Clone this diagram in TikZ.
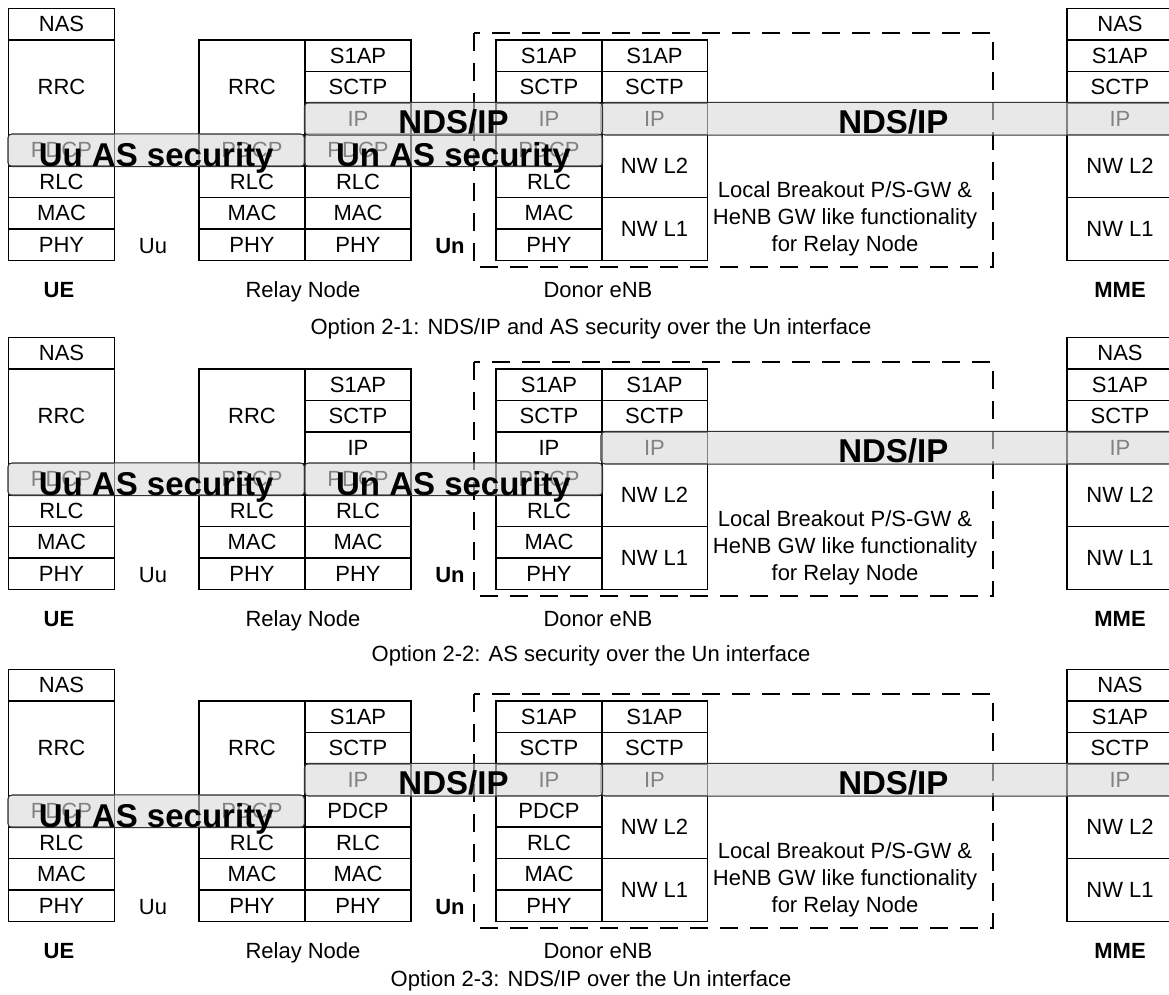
\documentclass[tikz,border=0pt]{standalone}
\usepackage{fontspec}
\setmainfont{Liberation Sans}
\usetikzlibrary{calc}

\begin{document}
\begin{tikzpicture}[x=1pt, y=-1pt,
	layer/.style={draw, line width=1.1pt, inner sep=0pt, minimum width=106pt, minimum height=31.5pt, font=\fontsize{22}{26}\selectfont},
	lbl/.style={anchor=base, inner sep=0pt, font=\fontsize{22}{26}\selectfont},
	lblbold/.style={lbl, font=\fontsize{22}{26}\selectfont\bfseries},
	enbbox/.style={line width=2.4pt, dash pattern=on 18pt off 12pt},
	band/.style={draw=black!80, line width=1pt, rounded corners=4pt, fill=black!15, fill opacity=0.6},
	bandtext/.style={anchor=base, inner sep=0pt, font=\fontsize{33}{35}\selectfont\bfseries}]
	\useasboundingbox (0, 0) rectangle (1169, 994);
	\foreach \s/\dy in {1/0, 2/329, 3/661} {
		\begin{scope}[shift={(0, \dy)}]
			\draw [enbbox] (474, 33) rectangle (993, 267);
			\foreach \col/\x in {ue/61.5, rn1/252, rn2/358, dn1/549} {
				\foreach \lay/\k in {PDCP/3, RLC/4, MAC/5, PHY/6}
					\node [layer] (\col-\lay-\s) at (\x, {55.75 + 31.5*\k}) {\lay};
			}
			\foreach \col/\x in {rn2/358, dn1/549, dn2/654.5, mme/1120} {
				\foreach \lay/\k in {S1AP/0, SCTP/1, IP/2}
					\node [layer] (\col-\lay-\s) at (\x, {55.75 + 31.5*\k}) {\lay};
			}
			\foreach \col/\x in {ue/61.5, mme/1120}
				\node [layer] (\col-NAS-\s) at (\x, 24.25) {NAS};
			\foreach \col/\x in {ue/61.5, rn1/252}
				\node [layer, minimum height=94.5pt] (\col-RRC-\s) at (\x, 87.25) {RRC};
			\foreach \col/\x in {dn2/654.5, mme/1120} {
				\node [layer, minimum height=63pt] (\col-L2-\s) at (\x, 166) {NW L2};
				\node [layer, minimum height=63pt] (\col-L1-\s) at (\x, 229) {NW L1};
			}
			\node [lbl, align=center, font=\fontsize{22}{27}\selectfont] (lbo-\s) at (845, 251)
				{Local Breakout P/S-GW \&\\HeNB GW like functionality\\for Relay Node};
			\node [lbl] (uu-\s) at (153, 253) {Uu};
			\node [lblbold] (un-\s) at (450, 253) {Un};
			\node [lblbold] (uename-\s) at (59, 297) {UE};
			\node [lbl] (rnname-\s) at (303, 297) {Relay Node};
			\node [lbl] (dnname-\s) at (598, 297) {Donor eNB};
			\node [lblbold] (mmename-\s) at (1120, 297) {MME};
		\end{scope}
	}
	\node [lbl] (cap-1) at (591, 334) {Option 2-1: NDS/IP and AS security over the Un interface};
	\node [lbl] (cap-2) at (591, 661) {Option 2-2: AS security over the Un interface};
	\node [lbl] (cap-3) at (591, 986) {Option 2-3: NDS/IP over the Un interface};

	\foreach \s in {1, 2, 3} {
		\draw [band] (ue-PDCP-\s.north west) rectangle (rn2-PDCP-\s.south west);
		\node [bandtext] (uusec-\s) at ($(ue-PDCP-\s.south west)!.5!(rn2-PDCP-\s.south west)$) {Uu AS security};
		\draw [band] (dn2-IP-\s.north west) rectangle ([xshift=12pt]mme-IP-\s.south east);
		\node [bandtext, yshift=1.5pt] (ndsr-\s) at ($(dn2-IP-\s.south west)!.5!(mme-IP-\s.south east)+(6, 0)$) {NDS/IP};
	}
	\foreach \s in {1, 2} {
		\draw [band] (rn2-PDCP-\s.north west) rectangle (dn1-PDCP-\s.south east);
		\node [bandtext] (unsec-\s) at ($(rn2-PDCP-\s.south west)!.5!(dn1-PDCP-\s.south east)$) {Un AS security};
	}
	\foreach \s in {1, 3} {
		\draw [band] (rn2-IP-\s.north west) rectangle (dn1-IP-\s.south east);
		\node [bandtext, yshift=1.5pt] (ndsl-\s) at ($(rn2-IP-\s.south west)!.5!(dn1-IP-\s.south east)$) {NDS/IP};
	}
\end{tikzpicture}
\end{document}
